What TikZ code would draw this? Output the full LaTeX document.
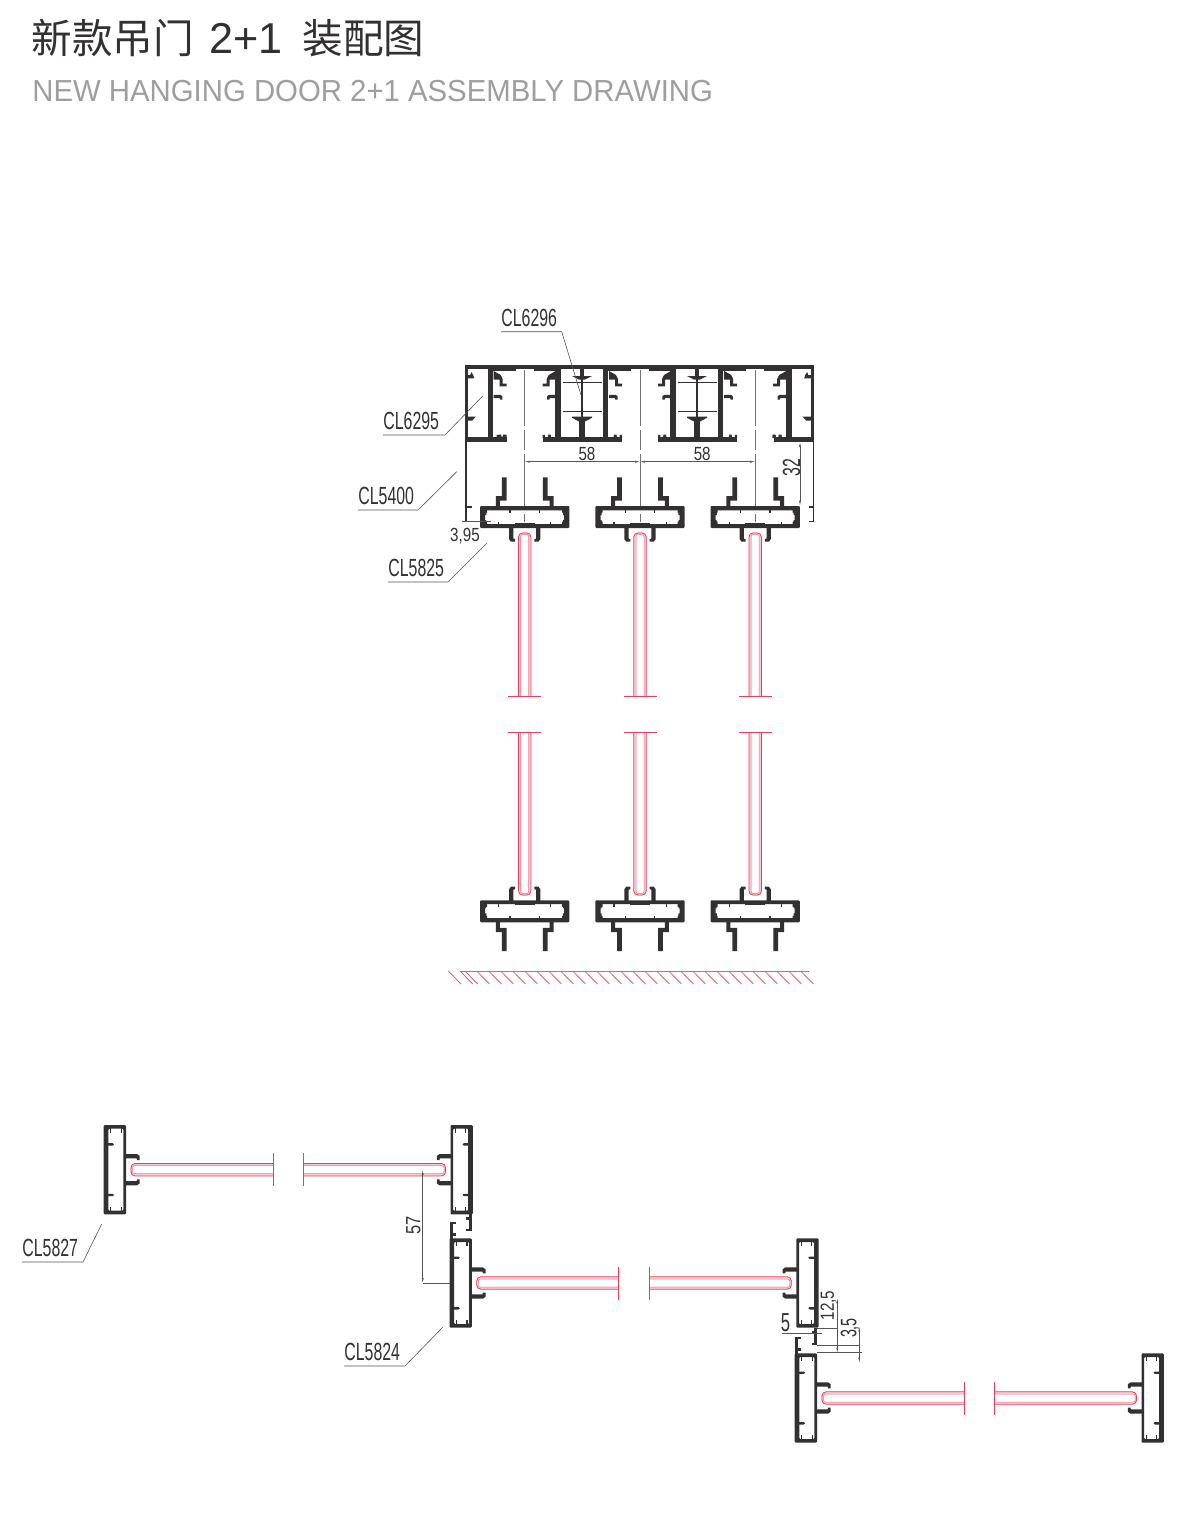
\documentclass[tikz,border=0pt]{standalone}
\usepackage{fontspec}
\usepackage{xcolor}
\usetikzlibrary{arrows.meta}
\setmainfont{Liberation Sans}
\newfontfamily\cjkfont{Noto Sans CJK SC}
\newfontfamily\labelfont[FakeStretch=0.64]{Liberation Sans}
\newfontfamily\dimfont[FakeStretch=0.8]{Liberation Sans}
\newfontfamily\subfont[FakeStretch=0.965]{Liberation Sans}
\definecolor{profcol}{HTML}{333031}
\definecolor{glassred}{HTML}{E2405C}
\definecolor{glasspink}{HTML}{F8CCD5}
\definecolor{dimcol}{HTML}{555555}
\tikzset{
	profile/.style={fill=profcol, draw=none},
	thinbar/.style={draw=profcol, line width=.6pt},
	dimline/.style={draw=dimcol, line width=.25pt},
	dimarrow/.style={dimline, <->, >={Latex[length=2.5pt, width=1pt]}},
	leader/.style={draw=dimcol, line width=.3pt},
	centerline/.style={draw=black!55, line width=.25pt, dash pattern=on 28pt off 2pt on 10pt off 2pt},
	hatchline/.style={draw=glassred!85!white, line width=.42pt},
	cllabel/.style={font=\labelfont\fontsize{12.4}{14}\selectfont, text=profcol, inner xsep=0pt, inner ysep=2.5pt, anchor=south west},
	dimlabel/.style={font=\dimfont\fontsize{9.5}{11}\selectfont, text=profcol, inner sep=0pt},
	talllabel/.style={font=\labelfont\fontsize{12.4}{14}\selectfont, text=profcol, inner sep=0pt},
	pics/glasspane/.style={code={
		\draw[glasspink, line width=1.1pt, rounded corners=1.5pt] (-5,#1) -- (-5,0.5) -- (5,0.5) -- (5,#1);
		\draw[glassred, line width=.4pt, rounded corners=2pt] (-6.2,#1) -- (-6.2,0) -- (6.2,0) -- (6.2,#1);
		\draw[glassred!70!white, line width=.25pt, rounded corners=1pt] (-4,#1) -- (-4,1.5) -- (4,1.5) -- (4,#1);
		\draw[glassred, line width=.35pt] (-16.5,#1) -- (16.5,#1);
	}},
	pics/railbox/.style={code={
		\fill[profile, even odd rule, rounded corners=.5pt] (-44.6,-11) rectangle (44.6,11) (-39.5,-6.7) rectangle (39.5,7.2);
		\fill[profile] (-10,6) rectangle (10,8);
		\foreach \sgn in {-1,1} {
			\fill[profile, xscale=\sgn] (-22.8,-39.7) -- (-18.2,-39.7) -- (-18.2,-16.5) -- (-24.8,-16.5) -- (-24.8,-10) -- (-28.9,-10) -- (-28.9,-20.8) -- (-22.8,-20.8) -- cycle;
			\fill[profile, xscale=\sgn] (-15.7,10) -- (-15.7,22) -- (-13.7,24.7) -- (-9.7,24.7) -- (-9.7,22) -- (-11.4,21.7) -- (-11.4,10) -- cycle;
			\fill[profile, xscale=\sgn] (-15.3,-7.5) rectangle (-14.2,-4.2);
			\fill[profile, xscale=\sgn] (-26.6,8) rectangle (-25.5,4.5);
			\fill[profile, xscale=\sgn] (-40,-7.5) -- (-37.5,-7.5) -- (-37.5,-4.5) -- (-38.3,-4.5) -- (-38.3,-2) -- (-40,-2) -- cycle;
			\fill[profile, xscale=\sgn] (-40,8) -- (-37.5,8) -- (-37.5,4.5) -- (-38.5,4.5) -- (-38.5,3) -- (-40,3) -- cycle;
		}
	}},
	pics/stilebox/.style={code={
		\fill[profile, even odd rule, rounded corners=.5pt] (-44.6,-11.3) rectangle (44.6,11) (-41,-6.7) rectangle (41,8.3);
		\foreach \sgn in {-1,1} {
			\fill[profile, xscale=\sgn] (-15.7,10) -- (-15.7,22) -- (-13.7,24.7) -- (-9.7,24.7) -- (-9.7,22) -- (-11.4,21.7) -- (-11.4,10) -- cycle;
			\fill[profile, xscale=\sgn] (-26.5,-7) -- (-24.2,-7) -- (-24.2,-2) -- (-25.5,-1) -- (-26.5,-2.5) -- cycle;
			\fill[profile, xscale=\sgn] (-41.5,-4.8) rectangle (-37,-3.6);
			\fill[profile, xscale=\sgn] (-41.5,5.5) rectangle (-37,6.7);
		}
	}},
	pics/lockhook/.style={code={
		\fill[profile] (0,0) rectangle (3,17);
		\fill[profile] (0,3) rectangle (5.6,5.2);
		\fill[profile] (0,14.8) rectangle (5.6,17);
	}}
}
\begin{document}
\begin{tikzpicture}[x=.5pt, y=-.5pt]
	\useasboundingbox (0,0) rectangle (1200,1517);
	% Titles
	\node[anchor=west, inner sep=0pt, text=profcol, font=\cjkfont\fontsize{20.3}{22}\selectfont] (title) at (31,38) {新款吊门\hspace{7.8pt}{\rmfamily\fontsize{21.6}{22}\selectfont 2+1}\hspace{10pt}装配图};
	\node[anchor=west, inner sep=0pt, text=black!38, font=\subfont\fontsize{15.2}{17}\selectfont] (subtitle) at (32,91.5) {NEW HANGING DOOR 2+1 ASSEMBLY DRAWING};
	% Top frame
	\fill[profile] (465,364.5) rectangle (814.3,369);
	\draw[thinbar, line width=.8pt] (465.8,365) -- (465.8,521.5) -- (471.5,521.5) (465.8,507) -- (471.5,507);
	\draw[thinbar, line width=.8pt] (813.5,365) -- (813.5,521.5) -- (808.5,521.5) (813.5,507) -- (808.5,507);
	\foreach \wa/\wb in {488.3/493.3,555/560.7,603.3/608.3,670/675.7,718.3/723.3,786/791.7} {
		\fill[profile] (\wa,369) rectangle (\wb,441);
	}
	\foreach \ba/\bb in {466/506.7,543.3/621.7,658.3/736.7,774/813} {
		\fill[profile] (\ba,437.3) rectangle (\bb,441.7);
	}
	% Tracks
	\foreach \cx in {524.7,640,755.2} {
		\begin{scope}[shift={(\cx,0)}]
			\fill[profile] (-36,369) rectangle (-9,371);
			\fill[profile] (9,369) rectangle (35,371);
			\foreach \sgn in {-1,1} {
				\fill[profile, xscale=\sgn] (-31,371) -- (-24,375) -- (-22,379) -- (-22,383.5) -- (-18,383.5) -- (-18,386.3) -- (-25,386.3) -- (-25,379.5) -- (-31,379.5) -- cycle;
				\fill[profile, xscale=\sgn] (-31,394.8) -- (-24,394.8) -- (-22.3,396.5) -- (-22.3,399.5) -- (-24.7,399.5) -- (-25,398.2) -- (-31,398.2) -- cycle;
				\fill[profile, xscale=\sgn] (-26.5,437.5) -- (-26,434.5) -- (-23.5,434.5) -- (-23,437.5) -- cycle;
				\fill[profile, xscale=\sgn] (-20.3,437.5) -- (-20.3,434.8) -- (-18,434.8) -- (-18,438) -- cycle;
			}
			\draw[centerline] (0,370) -- (0,522);
		\end{scope}
	}
	% CL6296 boxes
	\foreach \mx in {582,697} {
		\begin{scope}[shift={(\mx,0)}]
			\fill[profile] (-1.1,369) rectangle (1.1,422);
			\fill[profile] (-2.8,421) rectangle (2.8,438);
			\fill[profile] (-2.2,369) rectangle (2.2,376);
			\fill[profile] (-10,376) -- (10,376) -- (3,379.5) -- (-3,379.5) -- cycle;
			\fill[profile] (-10,416.5) -- (10,416.5) -- (10,417.8) -- (3,421.5) -- (-3,421.5) -- (-10,417.8) -- cycle;
			\draw[thinbar] (-19.5,382.7) -- (19.5,382.7);
			\draw[thinbar] (-19.5,411.3) -- (19.5,411.3);
		\end{scope}
	}
	% End chambers
	\foreach \sgn in {-1,1} {
		\begin{scope}[shift={(639.2,0)}, xscale=\sgn]
			\fill[profile] (171.5,369) rectangle (174,438);
			\fill[profile] (165,378.3) -- (172,378.3) -- (172,375) -- (169,375) -- (168,372) -- (166,375) -- cycle;
			\fill[profile] (163.5,416.7) -- (172,416.7) -- (172,420.7) -- (167,420.7) -- cycle;
			\fill[profile] (133,437.5) -- (133.5,434.5) -- (136,434.5) -- (137,437.5) -- cycle;
			\fill[profile] (140,437.5) -- (140,434.8) -- (142.5,434.8) -- (142.5,438) -- cycle;
		\end{scope}
	}
	% Door columns
	\foreach \cx in {524.7,640,755.2} {
		\pic at (\cx,517) {railbox};
		\pic[yscale=-1] at (\cx,911.3) {railbox};
		\pic at (\cx,533) {glasspane=163};
		\pic[yscale=-1] at (\cx,895) {glasspane=163};
	}
	% Plan view
	\foreach \rowx/\rowy in {115/1169.7,460.8/1283,806/1398} {
		\pic[rotate=90] at (\rowx,\rowy) {stilebox};
		\pic[rotate=-90] at (\rowx+346.5,\rowy) {stilebox};
		\pic[rotate=90] at (\rowx+16,\rowy) {glasspane=142};
		\pic[rotate=-90] at (\rowx+330.5,\rowy) {glasspane=142};
	}
	\pic[xscale=-1] at (471.8,1214.3) {lockhook};
	\pic[yscale=-1] at (450,1238.5) {lockhook};
	\pic[xscale=-1] at (817.2,1327.7) {lockhook};
	\pic[yscale=-1] at (795,1353.5) {lockhook};
	% Floor
	\coordinate (floorl) at (460,971);
	\coordinate (floorr) at (809.3,971);
	\draw[hatchline] (floorl) -- (floorr);
	\foreach \hx in {448.3,460,465,476.7,488.7,...,801} {
		\draw[hatchline] (\hx,971) -- ++(12.7,13);
	}
	% Labels and leaders
	\node[cllabel] (cl6296) at (501,331.7) {CL6296};
	\coordinate (tip6296) at (581,395);
	\draw[leader] (cl6296.south west) -- ++(60.7,0) -- (tip6296);
	\node[cllabel] (cl6295) at (383,435) {CL6295};
	\coordinate (tip6295) at (482.7,396);
	\draw[leader] (cl6295.south west) -- ++(62,0) -- (tip6295);
	\node[cllabel] (cl5400) at (358,510) {CL5400};
	\coordinate (tip5400) at (456.7,471.7);
	\draw[leader] (cl5400.south west) -- ++(60,0) -- (tip5400);
	\node[cllabel] (cl5825) at (388,582) {CL5825};
	\coordinate (tip5825) at (486.7,543.3);
	\draw[leader] (cl5825.south west) -- ++(60,0) -- (tip5825);
	\node[cllabel] (cl5827) at (22,1262) {CL5827};
	\coordinate (tip5827) at (101.7,1224);
	\draw[leader] (cl5827.south west) -- ++(61,0) -- (tip5827);
	\node[cllabel] (cl5824) at (344,1366) {CL5824};
	\coordinate (tip5824) at (442.7,1327.3);
	\draw[leader] (cl5824.south west) -- ++(61,0) -- (tip5824);
	% Dimensions
	\coordinate (dima) at (524.7,461.7);
	\coordinate (dimb) at (640,461.7);
	\coordinate (dimc) at (755.2,461.7);
	\draw[dimarrow] (dima) -- (dimb) node[dimlabel, pos=.54, above=.6pt] (dim58a) {58};
	\draw[dimarrow] (dimb) -- (dimc) node[dimlabel, pos=.54, above=.6pt] (dim58b) {58};
	\coordinate (dimd) at (800,442);
	\coordinate (dime) at (800,505.5);
	\draw[dimarrow] (dimd) -- (dime);
	\node[talllabel, rotate=90] (dim32) at (791.7,467.5) {32};
	\coordinate (dimf) at (462,521);
	\coordinate (dimg) at (490.7,521);
	\draw[dimline] (dimf) -- (dimg);
	\node[dimlabel] (dim395) at (465,536) {3,95};
	\coordinate (dimh) at (422.7,1170);
	\coordinate (dimi) at (422.7,1283);
	\coordinate (dimj) at (450,1283);
	\draw[dimarrow] (dimh) -- (dimi);
	\draw[dimline] (dimi) -- (dimj);
	\node[dimlabel, rotate=90, font=\dimfont\fontsize{10.3}{11}\selectfont] (dim57) at (413.5,1225) {57};
	\coordinate (dimk) at (781.7,1333.3);
	\coordinate (diml) at (821.7,1333.3);
	\draw[dimline] (dimk) -- (diml);
	\node[talllabel, font=\labelfont\fontsize{13}{14}\selectfont] (dim5) at (785.5,1322.5) {5};
	\coordinate (dimm) at (816.7,1328.3);
	\coordinate (dimn) at (838,1328.3);
	\coordinate (dimo) at (816.7,1345);
	\coordinate (dimp) at (860,1345);
	\coordinate (dimq) at (816.7,1352.7);
	\coordinate (dimr) at (861.7,1352.7);
	\draw[dimline] (dimm) -- (dimn);
	\draw[dimline] (dimo) -- (dimp);
	\draw[dimline] (dimq) -- (dimr);
	\coordinate (dims) at (837.3,1298.3);
	\coordinate (dimt) at (837.3,1352.7);
	\draw[dimarrow] (dims) -- (dimt);
	\node[dimlabel, rotate=90] (dim125) at (828.5,1305.5) {12,5};
	\coordinate (dimu) at (859.3,1326.7);
	\coordinate (dimv) at (859.3,1362.7);
	\draw[dimarrow] (dimu) -- (dimv);
	\node[talllabel, rotate=90, font=\labelfont\fontsize{11.2}{12}\selectfont] (dim35) at (850,1328) {3,5};
\end{tikzpicture}
\end{document}
